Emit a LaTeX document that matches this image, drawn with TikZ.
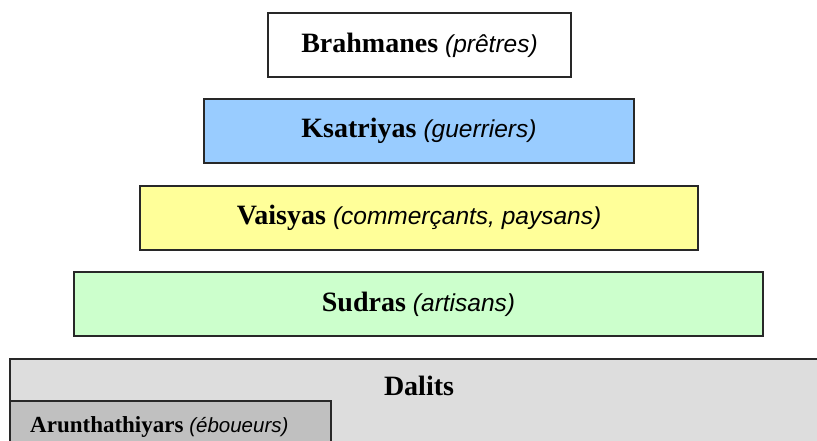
\documentclass[tikz,border=0pt]{standalone}
\usepackage{fontspec}
\setmainfont{Liberation Serif}
\setsansfont{Liberation Sans}
\usetikzlibrary{positioning}

\definecolor{ksblue}{RGB}{153,204,255}
\definecolor{vayellow}{RGB}{255,255,153}
\definecolor{sugreen}{RGB}{204,255,204}
\definecolor{dagray}{RGB}{221,221,221}
\definecolor{argray}{RGB}{192,192,192}
\definecolor{edge}{RGB}{40,40,40}

\newcommand{\castelabel}[2]{{\bfseries #1} {\sffamily\itshape\fontsize{24.5}{28}\selectfont(#2)}}

\tikzset{
  caste/.style={draw=edge, line width=1.4pt, minimum height=64pt, inner sep=0pt,
    font=\fontsize{28}{32}\selectfont},
}

\begin{document}
\begin{tikzpicture}[x=1pt,y=-1pt]
  \useasboundingbox (0,0) rectangle (817,441);
  \clip (0,0) rectangle (817,441);

  % pyramide
  \node[caste, fill=white, minimum width=303pt] (brahmanes) at (419.5,45) {\castelabel{Brahmanes}{prêtres}};
  \node[caste, fill=ksblue, minimum width=430pt] (ksatriyas) at (419,131) {\castelabel{Ksatriyas}{guerriers}};
  \node[caste, fill=vayellow, minimum width=558pt] (vaisyas) at (419,218) {\castelabel{Vaisyas}{commerçants, paysans}};
  \node[caste, fill=sugreen, minimum width=689pt] (sudras) at (418.5,304) {\castelabel{Sudras}{artisans}};

  % hors castes
  \draw[draw=edge, line width=1.4pt, fill=dagray] (10,359) rectangle (840,470);
  \node[font=\fontsize{28}{32}\selectfont\bfseries] (dalits) at (419,386) {Dalits};
  \draw[draw=edge, line width=1.4pt, fill=argray] (10,401) rectangle (331,470);
  \node[anchor=base west, inner sep=0pt, font=\fontsize{23}{26}\selectfont] (arunthathiyars) at (30,432)
    {{\bfseries Arunthathiyars} {\sffamily\itshape\fontsize{20.5}{24}\selectfont(éboueurs)}};
\end{tikzpicture}
\end{document}
